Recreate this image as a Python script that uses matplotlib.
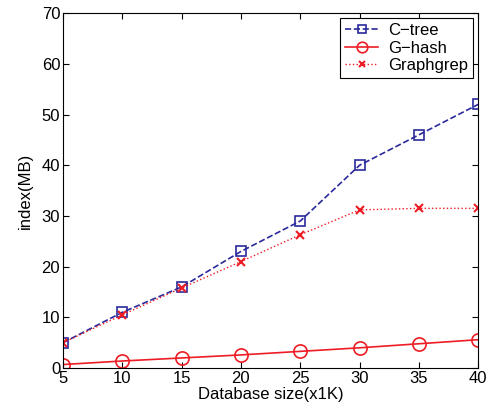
import matplotlib
matplotlib.use('Agg')
import matplotlib.pyplot as plt

plt.rcParams['font.family'] = ['Liberation Sans', 'DejaVu Sans']

# data
db_size = [5, 10, 15, 20, 25, 30, 35, 40]
ctree = [5, 11, 16, 23, 29, 40, 46, 52]
ghash = [0.7, 1.4, 2.0, 2.6, 3.3, 4.0, 4.8, 5.6]
graphgrep = [5, 10.5, 15.8, 21, 26.3, 31.2, 31.5, 31.5]

fig = plt.figure(figsize=(4.88, 4.09), dpi=100)
ax = fig.add_axes([0.129, 0.1, 0.851, 0.868])

ax.plot(db_size, ctree, '--s', color='#2a2a9c', lw=1.2, ms=7.5, mfc='none',
        mew=1.2, label='C\u2212tree')
ax.plot(db_size, ghash, '-o', color='#ee1c24', lw=1.2, ms=9.5, mfc='none',
        mew=1.2, label='G\u2212hash')
ax.plot(db_size, graphgrep, ':x', color='#ee1c24', lw=1.0, ms=6, mew=1.5,
        label='Graphgrep')

ax.set_xlim(5, 40)
ax.set_ylim(0, 70)
ax.set_xticks(db_size)
ax.set_yticks(range(0, 71, 10))
ax.tick_params(direction='in', labelsize=12, top=True, right=True, length=4,
               pad=2)
ax.set_xlabel('Database size(x1K)', fontsize=12, labelpad=1)
ax.set_ylabel('index(MB)', fontsize=12, labelpad=6)

leg = ax.legend(loc='upper right', fontsize=12, fancybox=False,
                edgecolor='black', framealpha=1, handlelength=2.0,
                borderaxespad=0.3, labelspacing=0.15, borderpad=0.3,
                handletextpad=0.6, markerscale=0.8)
leg.get_frame().set_linewidth(0.8)

fig.savefig('out.png', dpi=100)
